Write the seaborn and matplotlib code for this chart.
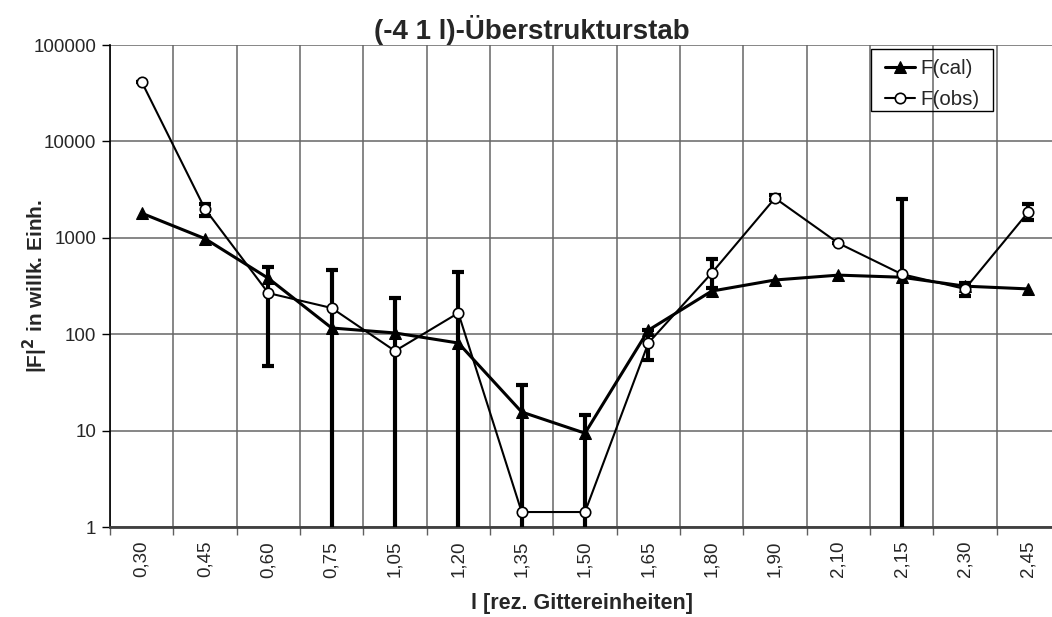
import numpy as np
import pandas as pd
import matplotlib
matplotlib.use("Agg")
import matplotlib.pyplot as plt
import seaborn as sns
from matplotlib.patches import Rectangle
from matplotlib.ticker import FixedLocator, NullFormatter, FuncFormatter

categories = ["0,30", "0,45", "0,60", "0,75", "1,05", "1,20", "1,35", "1,50",
              "1,65", "1,80", "1,90", "2,10", "2,15", "2,30", "2,45"]
f_cal = [1800, 980, 380, 116, 103, 81, 15.6, 9.4, 110, 280, 365, 410, 390, 315, 295]
f_obs = [41500, 1990, 267, 187, 67, 166, 1.43, 1.43, 81, 430, 2580, 880, 420, 295, 1850]
obs_hi = [41500, 2240, 500, 465, 237, 445, 29.7, 14.5, 110, 600, 2750, 880, 2530, 340, 2240]
obs_lo = [41500, 1700, 47, 0.1, 0.1, 0.1, 0.1, 0.1, 54, 300, 2450, 880, 0.1, 250, 1520]

sns.set_theme(style="white")
plt.rcParams['font.family'] = ['Liberation Sans', 'DejaVu Sans']

W, H = 1052, 617
fig = plt.figure(figsize=(W / 100, H / 100), dpi=100)
ax = fig.add_axes([110 / W, (H - 527) / H, 950 / W, (527 - 45) / H])

pos = np.arange(len(categories))
df = pd.DataFrame({"pos": pos, "cal": f_cal, "obs": f_obs})

obs_arr = np.array(f_obs)
yerr = np.vstack([obs_arr - np.array(obs_lo), np.array(obs_hi) - obs_arr])
ax.errorbar(pos, obs_arr, yerr=yerr, fmt="none", ecolor="black",
            elinewidth=3, capsize=4, capthick=3, zorder=3)

sns.lineplot(data=df, x="pos", y="cal", ax=ax, color="black", lw=2.2,
             marker="^", markersize=8, markerfacecolor="black",
             markeredgecolor="black", label="F(cal)", sort=False, zorder=4)
sns.lineplot(data=df, x="pos", y="obs", ax=ax, color="black", lw=1.5,
             marker="o", markersize=7.5, markerfacecolor="white",
             markeredgecolor="black", markeredgewidth=1.2,
             label="F(obs)", sort=False, zorder=5)

ax.set_yscale("log")
ax.set_ylim(1, 100000)
ax.set_xlim(-0.5, len(categories) - 0.5)

ax.yaxis.set_major_locator(FixedLocator([1, 10, 100, 1000, 10000, 100000]))
ax.yaxis.set_minor_locator(FixedLocator([]))
ax.yaxis.set_major_formatter(FuncFormatter(lambda v, p: f"{int(round(v))}"))
ax.tick_params(axis="y", which="major", direction="out", length=6, width=1,
               color="black", labelsize=13.5, pad=4, left=True)

ax.xaxis.set_major_locator(FixedLocator(pos))
ax.set_xticklabels(categories, rotation=90, fontsize=13.5)
ax.xaxis.set_minor_locator(FixedLocator(np.arange(len(categories) + 1) - 0.5))
ax.xaxis.set_minor_formatter(NullFormatter())
ax.tick_params(axis="x", which="major", length=0, pad=10)
ax.tick_params(axis="x", which="minor", direction="out", length=6, width=1,
               color="#606060", bottom=True)

ax.grid(False)
ax.grid(True, axis="y", which="major", color="#666666", lw=1.1)
ax.grid(True, axis="x", which="minor", color="#666666", lw=1.1)

for s in ["top", "right"]:
    ax.spines[s].set_visible(False)
ax.spines["left"].set_color("black")
ax.spines["left"].set_linewidth(1.2)
ax.spines["bottom"].set_color("#404040")
ax.spines["bottom"].set_linewidth(2)

ax.set_xlabel("l [rez. Gittereinheiten]", fontsize=15.5, fontweight="bold")
ax.set_ylabel("|F|$^{\\mathbf{2}}$ in willk. Einh.", fontsize=15, fontweight="bold")
ax.yaxis.set_label_coords((50 - 110) / 950, 0.5)
ax.xaxis.set_label_coords((582 - 110) / 950, (527 - 593) / 482)

fig.text(532 / W, 1 - 30 / H, "(-4 1 l)-Überstrukturstab", ha="center", va="center",
         fontsize=20, fontweight="bold")

# legend frame drawn as a plain rectangle, legend entries placed inside
fig.patches.append(Rectangle((871 / W, 1 - 111 / H), (993 - 871) / W, (111 - 49) / H,
                             transform=fig.transFigure, fill=False,
                             edgecolor="black", lw=1, zorder=10))
leg = ax.legend(loc="upper left", bbox_to_anchor=(885 / W, 1 - 59 / H),
                bbox_transform=fig.transFigure, borderaxespad=0, frameon=False,
                fontsize=14.8, handlelength=1.45, handletextpad=0.25,
                borderpad=0, labelspacing=0.6)

fig.savefig("out.png", dpi=100)
